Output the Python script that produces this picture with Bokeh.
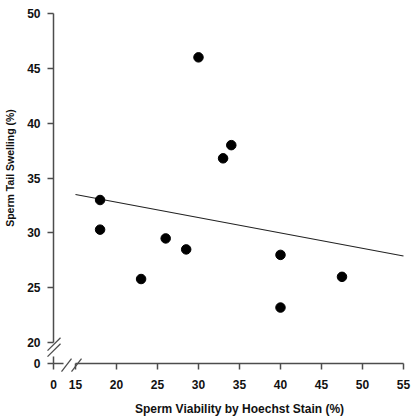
from bokeh.plotting import figure
from bokeh.models import Range1d, FixedTicker, CustomJSTickFormatter, LinearAxis
from bokeh.embed import file_html
from bokeh.resources import INLINE

# ---- data ----
viability = [18, 18, 23, 26, 28.5, 30, 33, 34, 40, 40, 47.5]
swelling = [33.0, 30.3, 25.8, 29.5, 28.5, 46.0, 36.8, 38.0, 28.0, 23.2, 26.0]
fit_x = [15, 55]
fit_y = [33.5, 27.9]
x_ticks = [15, 20, 25, 30, 35, 40, 45, 50, 55]
y_ticks = [20, 25, 30, 35, 40, 45, 50]
zero_label = "0"
x_title = "Sperm Viability by Hoechst Stain (%)"
y_title = "Sperm Tail Swelling (%)"

# ---- broken-axis geometry ----
X_ZERO = 12.32   # where "0" sits on the compressed x axis
Y_ZERO = 18.09   # where "0" sits on the compressed y axis
X_PX = 8.2       # px per x unit
Y_PX = 11.0      # px per y unit
gx = 1 / X_PX
gy = 1 / Y_PX

W, H = 413, 416
LEFT, RIGHT, TOP, BOTTOM = 53, 10, 13, 53

FONT = "Liberation Sans"
AX_COL = "#4d4d4d"
TXT = "#111111"

p = figure(width=W, height=H, output_backend="svg", toolbar_location=None,
           x_axis_type=None, y_axis_type=None,
           x_range=Range1d(X_ZERO - LEFT * gx, 55 + RIGHT * gx),
           y_range=Range1d(Y_ZERO - BOTTOM * gy, 50 + TOP * gy),
           min_border=0, outline_line_color=None,
           background_fill_color="white", border_fill_color="white")
p.xgrid.visible = False
p.ygrid.visible = False


def style(ax, standoff=7):
    ax.axis_line_color = AX_COL
    ax.axis_line_width = 1.5
    ax.major_tick_line_color = AX_COL
    ax.major_tick_line_width = 1.5
    ax.major_tick_in = 0
    ax.major_tick_out = 6
    ax.minor_tick_line_color = None
    ax.major_label_text_font = FONT
    ax.major_label_text_font_style = "bold"
    ax.major_label_text_font_size = "12px"
    ax.major_label_text_color = TXT
    ax.major_label_standoff = standoff
    ax.axis_label_text_font = FONT
    ax.axis_label_text_font_style = "bold"
    ax.axis_label_text_color = TXT


zero_fmt = CustomJSTickFormatter(args=dict(lab=zero_label), code="return lab;")

# y axis: main part 20-50
ya = LinearAxis(fixed_location=X_ZERO, bounds=(20, 50), ticker=FixedTicker(ticks=y_ticks))
style(ya)
p.add_layout(ya, "left")
# y axis: stub at 0
ya0 = LinearAxis(fixed_location=X_ZERO, bounds=(Y_ZERO, Y_ZERO + 7 * gy),
                 ticker=FixedTicker(ticks=[Y_ZERO]), formatter=zero_fmt)
style(ya0)
p.add_layout(ya0, "left")
# y title
yt = LinearAxis(fixed_location=X_ZERO, bounds=(21.8, 50), ticker=FixedTicker(ticks=[]),
                axis_label=y_title)
style(yt)
yt.axis_line_color = None
yt.major_tick_out = 0
yt.axis_label_text_font_size = "10.5px"
yt.axis_label_standoff = 38
p.add_layout(yt, "left")

# x axis: main part 15-55 (title centred on it)
xa = LinearAxis(fixed_location=Y_ZERO, bounds=(15, 55), ticker=FixedTicker(ticks=x_ticks),
                axis_label=x_title)
style(xa, standoff=10)
xa.axis_label_text_font_size = "12px"
xa.axis_label_standoff = 10
p.add_layout(xa, "below")
# x axis: stub at 0
xa0 = LinearAxis(fixed_location=Y_ZERO, bounds=(X_ZERO, X_ZERO + 10 * gx),
                 ticker=FixedTicker(ticks=[X_ZERO]), formatter=zero_fmt)
style(xa0, standoff=10)
p.add_layout(xa0, "below")

# regression line and points
p.line(fit_x, fit_y, line_color="#222222", line_width=1.1)
p.scatter(viability, swelling, size=9.5, fill_color="black", line_color="black")

# break marks (double slashes)
sx0, sy0, sx1, sy1 = [], [], [], []
for off in (0, 6):
    sx0.append(X_ZERO - 6 * gx); sy0.append(20 - (8 + off) * gy)
    sx1.append(X_ZERO + 7 * gx); sy1.append(20 + (5 - off) * gy)
for off in (0, 10):
    sx0.append(X_ZERO + (8 + off) * gx); sy0.append(Y_ZERO - 8 * gy)
    sx1.append(X_ZERO + (18 + off) * gx); sy1.append(Y_ZERO + 5 * gy)
p.segment(sx0, sy0, sx1, sy1, line_color=AX_COL, line_width=1.3)

open("out.html", "w").write(file_html(p, INLINE))
